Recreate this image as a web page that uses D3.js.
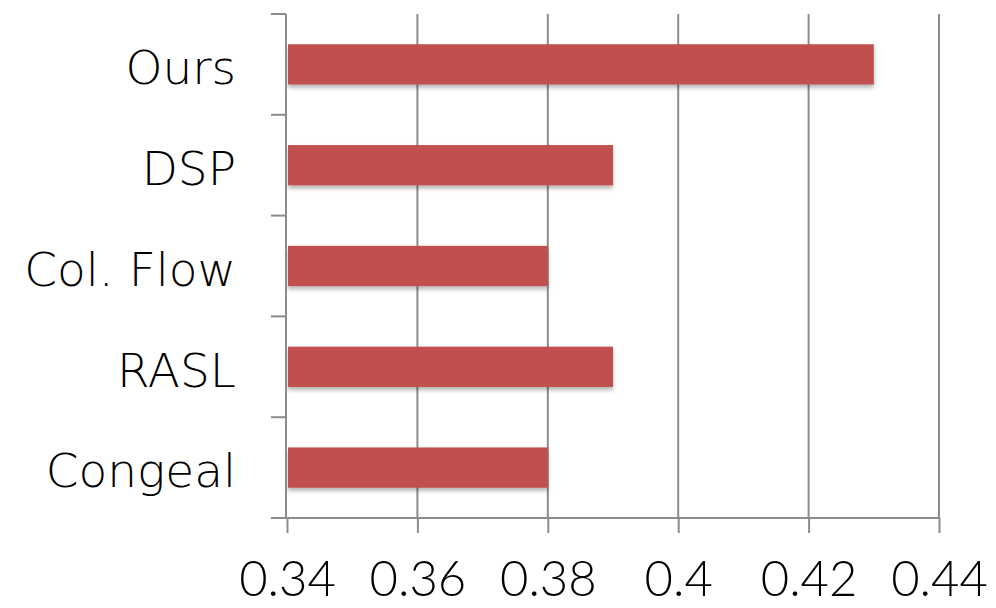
<!DOCTYPE html>
<html>
<head>
<meta charset="utf-8">
<script src="https://cdn.jsdelivr.net/npm/d3@7"></script>
<style>
  html, body { margin: 0; padding: 0; background: #fff; }
  svg text { fill: #000; }
</style>
</head>
<body>
<svg id="chart" width="996" height="608"></svg>
<script>
const categories = ["Ours", "DSP", "Col. Flow", "RASL", "Congeal"];
const scores = [0.43, 0.39, 0.38, 0.39, 0.38];
const xTicks = [0.34, 0.36, 0.38, 0.40, 0.42, 0.44];
const xTickLabels = ["0.34", "0.36", "0.38", "0.4", "0.42", "0.44"];

const svg = d3.select("#chart");
const plotLeft = 287, plotRight = 939, plotTop = 14, plotBottom = 518;
const axisColor = "#8c8c8c";
const labelFont = "\"Century Gothic\", \"DejaVu Sans\", sans-serif";
const tickFont = "\"Century Gothic\", Lato, sans-serif";

const x = d3.scaleLinear().domain([0.34, 0.44]).range([plotLeft, plotRight]);
const y = d3.scaleBand().domain(categories).range([plotTop, plotBottom])
  .paddingInner(0.6).paddingOuter(0.3);

// soft shadow under the bars
const defs = svg.append("defs");
const f = defs.append("filter").attr("id", "shadow")
  .attr("x", "-5%").attr("y", "-20%").attr("width", "110%").attr("height", "160%");
f.append("feDropShadow").attr("dx", 0).attr("dy", 3).attr("stdDeviation", 2)
  .attr("flood-color", "#000").attr("flood-opacity", 0.3);

// vertical gridlines
svg.append("g").selectAll("line").data(xTicks.slice(1)).join("line")
  .attr("x1", d => x(d)).attr("x2", d => x(d))
  .attr("y1", plotTop).attr("y2", plotBottom)
  .attr("stroke", axisColor).attr("stroke-width", 2);

// bars
svg.append("g").selectAll("rect").data(categories).join("rect")
  .attr("x", x(0.34) + 1)
  .attr("y", d => y(d))
  .attr("width", (d, i) => x(scores[i]) - x(0.34) - 1)
  .attr("height", y.bandwidth())
  .attr("fill", "#c0504d")
  .attr("filter", "url(#shadow)");

// bottom axis
const xAxis = d3.axisBottom(x).tickValues(xTicks)
  .tickFormat((d, i) => xTickLabels[i]).tickSize(15).tickSizeOuter(0).tickPadding(28);
const gx = svg.append("g").attr("transform", `translate(0,${plotBottom})`).call(xAxis);
gx.select(".domain").attr("stroke", axisColor).attr("stroke-width", 2)
  .attr("d", `M${plotLeft - 15},0H${plotRight}`);
gx.selectAll(".tick line").attr("stroke", axisColor).attr("stroke-width", 2);
gx.selectAll(".tick text").attr("font-size", 49).attr("fill", "#000")
  .attr("font-family", tickFont).attr("font-weight", 300);

// left axis with ticks at the category boundaries
const boundaries = categories.map(c => y(c) - y.step() * y.paddingInner() / 2);
boundaries[0] = plotTop;
boundaries.push(plotBottom);
const gy = svg.append("g");
gy.append("line").attr("x1", plotLeft - 1).attr("x2", plotLeft - 1).attr("y1", plotTop).attr("y2", plotBottom)
  .attr("stroke", axisColor).attr("stroke-width", 2);
gy.selectAll("line.tk").data(boundaries).join("line").attr("class", "tk")
  .attr("x1", plotLeft - 16).attr("x2", plotLeft - 1)
  .attr("y1", d => d).attr("y2", d => d)
  .attr("stroke", axisColor).attr("stroke-width", 2);

// category labels
svg.append("g").selectAll("text").data(categories).join("text")
  .attr("x", 236)
  .attr("y", d => y(d) + y.bandwidth() / 2)
  .attr("dy", "0.42em")
  .attr("text-anchor", "end")
  .attr("font-family", labelFont)
  .attr("font-weight", 200)
  .attr("font-size", 47)
  .text(d => d);
</script>
</body>
</html>
